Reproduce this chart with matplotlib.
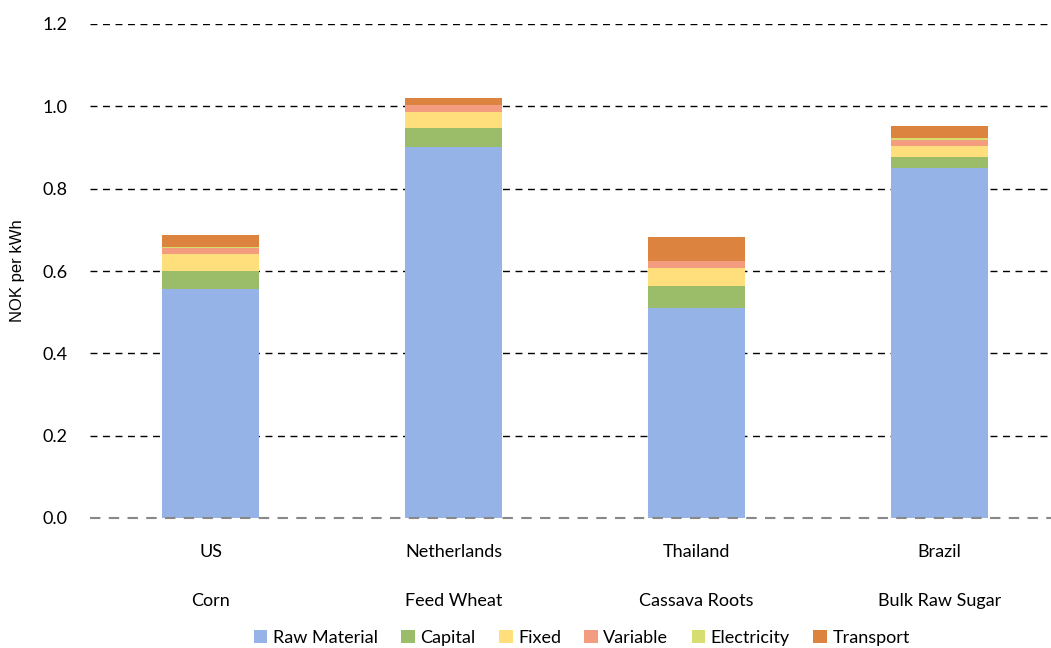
import matplotlib.pyplot as plt
import numpy as np

countries = ["US", "Netherlands", "Thailand", "Brazil"]
feedstocks = ["Corn", "Feed Wheat", "Cassava Roots", "Bulk Raw Sugar"]

components = ["Raw Material", "Capital", "Fixed", "Variable", "Electricity", "Transport"]
raw_material = [0.556, 0.902, 0.510, 0.850]
capital = [0.044, 0.045, 0.054, 0.027]
fixed = [0.041, 0.039, 0.044, 0.027]
variable = [0.016, 0.017, 0.017, 0.015]
electricity = [0.002, 0.001, 0.000, 0.005]
transport = [0.028, 0.017, 0.058, 0.029]

colors = ["#95b3e7", "#9bbd69", "#ffdf7b", "#f39c80", "#d5de6f", "#dc843f"]

plt.rcParams["font.family"] = ["Lato", "DejaVu Sans"]

fig = plt.figure(figsize=(10.51, 6.48), dpi=100)
ax = fig.add_axes([89.5 / 1051, 130 / 648, 971 / 1051, 494 / 648])

x = np.arange(len(countries))
bottom = np.zeros(len(countries))
series = [raw_material, capital, fixed, variable, electricity, transport]
for name, vals, col in zip(components, series, colors):
    ax.bar(x, vals, width=0.4, bottom=bottom, color=col, label=name, zorder=3)
    bottom += np.array(vals)

ax.set_ylim(0, 1.2)
ax.set_xlim(-0.5, 3.5)
ax.set_yticks(np.arange(0, 1.21, 0.2))
ax.set_yticklabels([f"{v:.1f}" for v in np.arange(0, 1.21, 0.2)], fontsize=13)
for y in np.arange(0.2, 1.21, 0.2):
    ax.axhline(y, color="black", lw=1, ls=(0, (5, 4)), zorder=1)
ax.axhline(0, color="#888888", lw=1.5, ls=(0, (5, 4)), zorder=4, clip_on=False)

for s in ax.spines.values():
    s.set_visible(False)
ax.tick_params(axis="y", length=0, pad=16)
ax.tick_params(axis="x", length=0, pad=0)
ax.set_xticks(x)
ax.set_xticklabels([f"{c}\n\n{f}" for c, f in zip(countries, feedstocks)],
                   fontsize=13, linespacing=1.68)
for lbl in ax.get_xticklabels():
    lbl.set_y(-0.052)

ax.set_ylabel("NOK per kWh", fontsize=12, family="Liberation Sans", labelpad=12)

ax.legend(loc="center", bbox_to_anchor=(0.507, -0.243), ncol=6, frameon=False,
          fontsize=13, handlelength=0.75, handleheight=0.75, handletextpad=0.3,
          columnspacing=1.3)

fig.savefig("out.png", dpi=100)
